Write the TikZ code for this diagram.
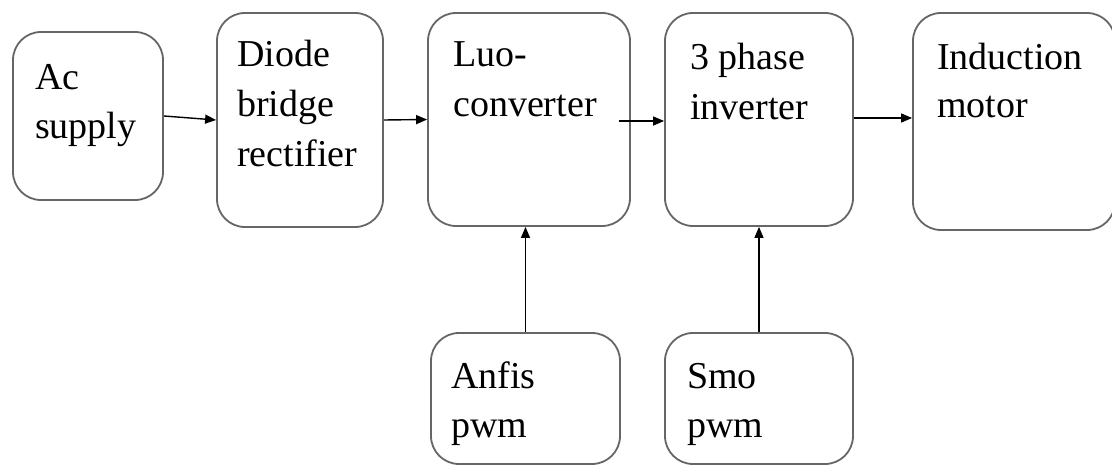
\documentclass[tikz,border=0pt]{standalone}
\usepackage{fontspec}
\setmainfont{Liberation Serif}
\usetikzlibrary{arrows.meta}
\begin{document}
\begin{tikzpicture}[x=1pt,y=-1pt,
  blk/.style={draw=black!60, line width=1.8pt, rounded corners=28pt, inner sep=0pt},
  lbl/.style={anchor=base west, inner sep=0pt, font=\fontsize{38}{50}\selectfont},
  arr/.style={draw=black, line width=1.4pt, -{Triangle[length=11pt,width=9pt]}}]
\useasboundingbox (0,0) rectangle (1112,468);
% boxes
\node[blk, minimum width=150pt, minimum height=168pt] (ac) at (88,116) {};
\node[blk, minimum width=166pt, minimum height=214pt] (diode) at (300,120) {};
\node[blk, minimum width=202pt, minimum height=213pt] (luo) at (529,119.5) {};
\node[blk, minimum width=188pt, minimum height=213pt] (inv) at (759,119.5) {};
\node[blk, minimum width=202pt, minimum height=217pt] (motor) at (1014,121.5) {};
\node[blk, minimum width=189pt, minimum height=131pt] (anfis) at (525.5,398.5) {};
\node[blk, minimum width=188pt, minimum height=131pt] (smo) at (759,398.5) {};
% texts
\node[lbl] (ac1) at (35,90) {Ac};
\node[lbl] (ac2) at (35,139) {supply};
\node[lbl] (di1) at (237,67) {Diode};
\node[lbl] (di2) at (237,117) {bridge};
\node[lbl] (di3) at (237,167) {rectifier};
\node[lbl] (lu1) at (453,67) {Luo-};
\node[lbl] (lu2) at (453,117) {converter};
\node[lbl] (in1) at (690,70) {3 phase};
\node[lbl] (in2) at (690,120) {inverter};
\node[lbl] (mo1) at (937,70) {Induction};
\node[lbl] (mo2) at (937,118) {motor};
\node[lbl] (an1) at (451,388) {Anfis};
\node[lbl] (an2) at (451,437) {pwm};
\node[lbl] (sm1) at (687,388) {Smo};
\node[lbl] (sm2) at (687,437) {pwm};
% connectors
\coordinate (luoout) at ([xshift=-12pt,yshift=-1.5pt]luo.east);
\draw[arr] (ac.east) -- (diode.west);
\draw[arr] (diode.east) -- (luo.west);
\draw[arr] (luoout) -- (luoout -| inv.west);
\draw[arr] ([yshift=1.5pt]inv.east) -- ([yshift=1.5pt]inv.east -| motor.west);
\draw[arr] (anfis.north) -- (anfis.north |- luo.south);
\draw[arr] (smo.north) -- (smo.north |- inv.south);
\end{tikzpicture}
\end{document}
